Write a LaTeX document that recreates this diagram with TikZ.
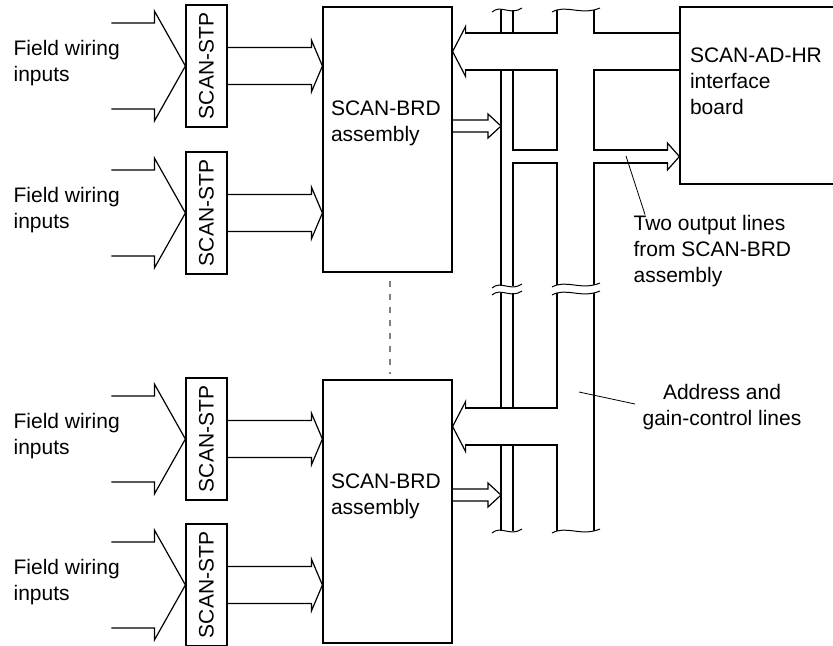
\documentclass[tikz,border=0pt]{standalone}
\usepackage{fontspec}
\setmainfont{Liberation Sans}
\usepackage{graphicx}
\usepackage{tikz}
\usetikzlibrary{calc}

% hollow wide arrow: [direction]{tip}{tail length}{head length}{shaft half}{head half}
\newcommand{\fatarrow}[6][1]{%
  \draw[shift={(#2)}, xscale=#1] (-#3,-#5) -- (-#4,-#5) -- (-#4,-#6) -- (0,0) -- (-#4,#6) -- (-#4,#5) -- (-#3,#5);}
% break mark on the bus: {x from}{x to}{y}
\newcommand{\breakwave}[3]{%
  \draw[line width=0.5pt] ({#1},{#3+2}) .. controls ({#1+0.3*(#2-#1)},{#3-6}) and ({#1+0.6*(#2-#1)},{#3+6}) .. ({#2},{#3-2});}

\begin{document}
\begin{tikzpicture}[x=0.5pt, y=-0.5pt, line width=0.6pt]
\tikzset{
    every node/.style={align=left, inner sep=0pt, font=\fontsize{10.5}{13}\selectfont},
    stpbox/.style={draw, minimum width=20.5pt, minimum height=61pt},
    brdbox/.style={draw, minimum width=64.5pt, minimum height=132pt},
    leader/.style={line width=0.4pt}
}
\useasboundingbox (0,0) rectangle (833,645);

\node[stpbox] (stp1) at (206.5,66) {\rotatebox{90}{SCAN-STP}};
\node[stpbox] (stp2) at (206.5,213) {\rotatebox{90}{SCAN-STP}};
\node[stpbox] (stp3) at (206.5,439) {\rotatebox{90}{SCAN-STP}};
\node[stpbox] (stp4) at (206.5,585) {\rotatebox{90}{SCAN-STP}};

\node[brdbox, minimum height=132.5pt] (brd1) at (387.5,139.5) {};
\node[brdbox, minimum height=131.5pt] (brd2) at (387.5,511.5) {};
\node[draw, minimum width=78pt, minimum height=88.5pt] (adhr) at (758,95.5) {};

\node[anchor=west] (field1) at (13,63) {Field wiring\\inputs};
\node[anchor=west] (field2) at (13,210) {Field wiring\\inputs};
\node[anchor=west] (field3) at (13,436) {Field wiring\\inputs};
\node[anchor=west] (field4) at (13,582) {Field wiring\\inputs};
\node[anchor=west] (brd1txt) at ($(brd1.west)+(8,-16)$) {SCAN-BRD\\assembly};
\node[anchor=west] (brd2txt) at ($(brd2.west)+(8,-15)$) {SCAN-BRD\\assembly};
\node[anchor=west] (adhrtxt) at ($(adhr.west)+(10,-14.5)$) {SCAN-AD-HR\\interface\\board};
\node[anchor=west] (outtxt) at (633,251) {Two output lines\\from SCAN-BRD\\assembly};
\node[align=center] (addrtxt) at (722,407) {Address and\\gain-control lines};

\fatarrow{stp1.west}{74}{31}{43}{55}
\fatarrow{stp2.west}{74}{31}{43}{55}
\fatarrow{stp3.west}{74}{31}{43}{55}
\fatarrow{stp4.west}{74}{31}{43}{55}

\fatarrow{brd1.west |- stp1.east}{96}{11}{18.5}{26}
\fatarrow{brd1.west |- stp2.east}{96}{11}{18.5}{26}
\fatarrow{brd2.west |- stp3.east}{96}{11}{18.5}{26}
\fatarrow{brd2.west |- stp4.east}{96}{11}{18.5}{26}

\fatarrow{501,126}{49}{13}{6}{12}
\fatarrow{501,495}{49}{13}{6}{12}
\fatarrow[-1]{brd1.east |- 0,51.5}{13}{13}{18.5}{25}
\fatarrow[-1]{brd2.east |- 0,426.5}{13}{13}{18.5}{25}
\fatarrow{adhr.west |- 0,156.5}{12}{12}{6.5}{13.5}

% bus, upper part
\draw (501,10) -- (501,33) (513,10) -- (513,33)
      (465,33) -- (557,33) -- (557,10)
      (594,10) -- (594,33) -- (adhr.west |- 0,33)
      (465,70) -- (557,70) -- (557,150) -- (513,150) -- (513,70)
      (adhr.west |- 0,70) -- (594,70) -- (594,150) -- (668,150)
      (668,163) -- (594,163) -- (594,285)
      (513,286) -- (513,163) -- (557,163) -- (557,285)
      (501,70) -- (501,286);
% bus, lower part
\draw (501,293) -- (501,408) (513,293) -- (513,408)
      (557,293) -- (557,408) -- (465,408)
      (465,445) -- (557,445) -- (557,531)
      (501,445) -- (501,531) (513,445) -- (513,531)
      (594,293) -- (594,531);

\breakwave{492}{522}{10}
\breakwave{552}{600}{10}
\breakwave{492}{522}{286}
\breakwave{492}{522}{293}
\breakwave{552}{600}{285}
\breakwave{552}{600}{293}
\breakwave{492}{522}{531}
\breakwave{552}{600}{531}

\draw[gray, dash pattern=on 3pt off 3.5pt] ($(brd1.south)+(2.5,8)$) -- ($(brd2.north)+(2.5,-5)$);

\coordinate (outtap) at (626,156);
\coordinate (addrtap) at (579,392);
\draw[leader] (outtap) -- ($(outtxt.north west)+(12,0)$);
\draw[leader] (addrtap) -- ($(addrtxt.west)+(-7,-3)$);
\end{tikzpicture}
\end{document}
